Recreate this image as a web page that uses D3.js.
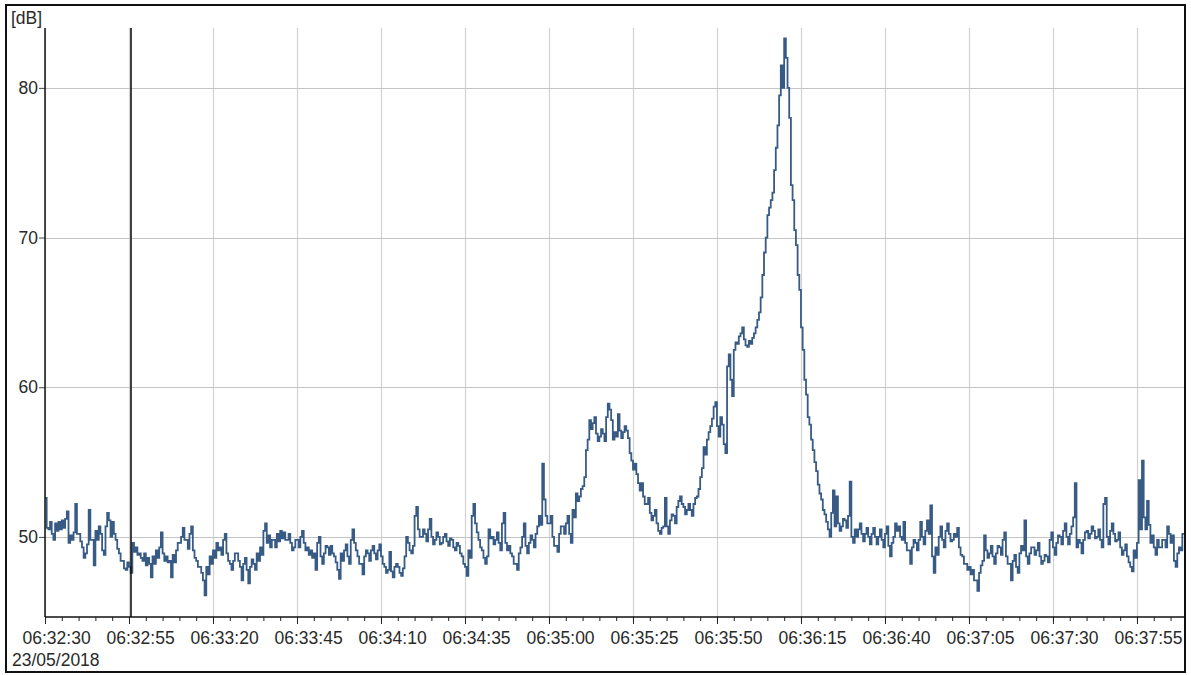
<!DOCTYPE html>
<html>
<head>
<meta charset="utf-8">
<script src="https://cdn.jsdelivr.net/npm/d3@7"></script>
<style>
  html, body { margin: 0; padding: 0; background: #ffffff; }
  svg { display: block; font-family: "Liberation Sans", Arial, sans-serif; }
</style>
</head>
<body>
<svg id="chart" width="1191" height="675"></svg>
<script>
// Recording window and labels
const recordDate = "2018-05-23";
const startClock = "06:32:30";
const endClock = "06:38:09";
const cursorClock = "06:32:55";
const dateLabel = "23/05/2018";
const unitLabel = "[dB]";
const tickLabels = ["06:32:30", "06:32:55", "06:33:20", "06:33:45", "06:34:10", "06:34:35",
  "06:35:00", "06:35:25", "06:35:50", "06:36:15", "06:36:40", "06:37:05", "06:37:30", "06:37:55"];
const yTicks = [50, 60, 70, 80];
const yDomain = [44.65, 84.0];

// Sound level in dB, one sample every half second from the start clock
const samplePeriod = 0.5;
const levels = [
  52.6,50.6, 50.5,51.0, 50.2,49.8, 50.9,50.4, 51.0,50.5, 51.1,50.6, 51.2,51.7, 49.6,50.1, 49.8,50.3, 52.2,50.2,
  50.2,49.7, 49.3,48.6, 48.9,49.5, 51.8,49.8, 49.8,48.1, 50.4,49.8, 50.7,50.2, 49.1,48.8, 50.7,51.6, 51.1,50.0,
  51.0,50.2, 49.8,49.2, 48.9,48.4, 48.4,47.9, 47.8,48.3, 48.0,47.6, 49.6,49.0, 49.3,48.8, 48.9,48.6, 48.4,48.9,
  48.1,48.6, 48.2,47.3, 48.7,48.2, 49.1,48.6, 49.3,50.3, 48.9,48.4, 48.7,48.3, 48.4,47.3, 48.8,48.3, 49.1,49.6,
  49.6,50.0, 50.6,49.8, 49.8,49.2, 50.2,50.7, 49.1,48.6, 48.4,48.0, 48.0,47.6, 47.1,46.1, 48.0,47.5, 48.7,48.2,
  49.1,48.6, 49.6,49.1, 49.3,48.8, 49.8,50.2, 48.9,48.4, 48.2,47.8, 48.4,48.9, 48.9,48.4, 48.0,47.1, 48.2,48.6,
  47.8,46.9, 48.0,48.5, 48.2,47.8, 48.9,48.4, 49.3,48.8, 50.4,50.9, 49.6,50.1, 49.3,49.8, 49.8,49.3, 50.2,49.7,
  50.4,49.9, 50.3,49.8, 49.8,50.2, 49.6,49.1, 49.3,49.8, 49.8,49.3, 50.0,50.4, 49.6,49.1, 49.3,48.8, 49.1,48.6,
  48.9,47.8, 49.6,50.0, 48.7,48.2, 48.9,49.4, 49.3,48.8, 49.4,48.9, 48.7,48.3, 47.8,47.2, 48.9,48.4, 49.1,49.5,
  48.7,48.2, 49.8,50.5, 49.6,49.1, 48.7,48.2, 48.2,47.5, 48.7,49.1, 48.9,48.4, 49.1,49.4, 48.9,48.5, 49.1,49.5,
  48.7,48.2, 48.0,47.6, 47.8,49.0, 47.7,47.3, 48.0,48.2, 48.0,47.6, 47.4,47.9, 48.7,50.0, 49.6,49.1, 48.9,49.4,
  51.4,52.0, 50.5,50.0, 50.0,50.5, 50.2,49.7, 50.5,51.2, 50.0,49.5, 49.8,50.3, 50.0,49.5, 49.6,50.0, 50.2,49.7,
  49.4,49.9, 49.8,49.3, 49.1,49.6, 49.4,48.9, 48.7,48.2, 48.0,47.4, 49.1,48.6, 51.4,52.2, 50.9,50.3, 49.8,49.3,
  49.1,48.6, 48.2,48.7, 50.5,49.9, 50.0,49.5, 49.8,50.3, 49.6,49.1, 50.9,51.6, 49.6,49.1, 49.4,48.9, 48.7,48.2,
  48.2,47.8, 48.9,49.3, 50.0,50.9, 49.4,48.9, 49.6,50.1, 49.8,49.3, 50.2,50.7, 51.4,50.8, 54.9,52.5, 51.4,50.9,
  50.9,51.4, 50.0,49.4, 49.4,49.0, 50.2,50.7, 50.7,50.2, 50.9,51.4, 50.2,49.6, 51.8,51.3, 52.9,52.4, 52.7,53.2,
  53.4,54.0, 55.8,56.5, 57.8,57.2, 57.6,58.0, 56.9,56.4, 56.7,57.2, 56.9,56.4, 58.0,58.9, 58.5,57.8, 56.5,57.0,
  56.7,58.2, 57.1,56.6, 57.0,57.4, 57.1,56.6, 55.6,55.1, 54.5,54.9, 54.2,53.6, 53.1,53.6, 52.7,52.2, 52.2,52.6,
  51.6,51.1, 51.4,51.8, 50.9,50.4, 50.2,50.6, 50.7,52.6, 50.7,50.2, 51.1,51.5, 51.4,50.9, 52.0,52.4, 52.7,52.2,
  52.0,51.5, 51.8,52.2, 51.8,51.4, 52.2,52.6, 52.7,53.2, 54.0,54.6, 56.0,55.5, 56.5,57.0, 57.4,57.9, 58.7,59.0,
  57.4,56.7, 58.0,57.5, 56.2,55.6, 61.4,62.2, 60.5,59.4, 62.5,63.0, 62.9,63.4, 63.6,64.0, 63.2,62.8, 62.7,63.1,
  62.9,63.3, 63.6,64.0, 64.5,65.0, 66.0,67.5, 69.0,70.0, 71.5,72.0, 72.5,73.0, 74.5,76.0, 77.5,79.5, 81.5,80.0,
  83.3,82.0, 80.0,78.0, 73.5,72.5, 70.5,69.5, 67.5,66.5, 64.0,62.5, 60.5,59.5, 58.0,57.5, 56.5,55.8, 55.0,54.4,
  53.5,52.9, 52.5,51.8, 51.5,51.0, 50.5,50.0, 51.6,53.1, 50.7,52.7, 50.9,50.4, 50.7,51.2, 51.1,50.6, 51.4,53.7,
  50.0,49.6, 50.5,50.0, 50.5,50.9, 50.2,49.7, 50.2,50.6, 50.0,49.5, 50.2,50.6, 50.0,49.5, 50.0,50.5, 49.8,49.3,
  50.2,50.7, 49.4,48.7, 49.6,50.0, 50.9,50.4, 50.7,50.0, 49.8,51.0, 49.6,49.1, 49.1,48.2, 49.3,49.8, 49.6,49.1,
  49.8,51.0, 50.0,49.5, 50.4,51.1, 50.2,52.1, 48.7,47.6, 49.3,48.8, 50.0,50.7, 49.8,49.3, 50.4,50.9, 50.2,49.7,
  49.8,50.2, 50.0,50.6, 49.3,48.8, 48.7,48.2, 48.2,47.8, 48.0,47.5, 47.8,47.1, 47.1,46.4, 47.6,48.1, 48.4,50.1,
  49.1,48.6, 48.9,49.4, 48.7,48.2, 48.9,49.4, 49.3,48.8, 49.8,50.3, 48.7,48.2, 48.2,47.1, 48.4,48.8, 48.0,47.6,
  48.9,49.4, 49.1,51.1, 48.7,48.2, 48.9,49.3, 49.3,48.8, 49.1,49.6, 48.7,48.2, 48.4,48.8, 48.7,48.3, 49.8,50.3,
  49.3,48.8, 49.6,50.1, 50.0,49.5, 50.4,50.9, 50.0,49.5, 50.2,50.7, 51.3,53.6, 49.3,49.8, 49.6,48.9, 49.8,50.3,
  50.4,49.9, 50.2,50.7, 50.4,49.9, 50.0,50.5, 49.8,49.3, 52.2,52.6, 50.0,49.5, 50.4,50.9, 50.2,49.7, 49.8,50.3,
  49.3,48.8, 49.1,49.5, 48.7,48.3, 48.0,47.7, 49.1,48.6, 49.6,53.8, 50.5,55.1, 51.3,50.5, 52.4,50.8, 49.6,50.1,
  49.3,48.8, 49.8,49.3, 49.3,49.8, 49.8,49.3, 50.7,50.2, 49.6,50.1, 48.4,48.0, 48.9,49.3, 49.1,50.2
];

const svg = d3.select("#chart");
const W = 1191, H = 675;
const plot = { left: 45, top: 28, right: 1184, bottom: 617 };

const parseClock = c => new Date(recordDate + "T" + c);
const t0 = parseClock(startClock);
const t1 = parseClock(endClock);

const x = d3.scaleTime().domain([t0, t1]).range([plot.left, plot.right]);
const y = d3.scaleLinear().domain(yDomain).range([plot.bottom, plot.top]);

// background
svg.append("rect").attr("x", 0).attr("y", 0).attr("width", W).attr("height", H).attr("fill", "#ffffff");

// grid
const majorTicks = tickLabels.map(parseClock);
svg.append("g").selectAll("line").data(majorTicks).join("line")
  .attr("x1", d => Math.round(x(d)) + 0.5).attr("x2", d => Math.round(x(d)) + 0.5)
  .attr("y1", plot.top).attr("y2", plot.bottom)
  .attr("stroke", "#d2d2d2").attr("stroke-width", 1.2);
svg.append("g").selectAll("line").data(yTicks).join("line")
  .attr("x1", plot.left).attr("x2", plot.right)
  .attr("y1", d => Math.round(y(d)) + 0.5).attr("y2", d => Math.round(y(d)) + 0.5)
  .attr("stroke", "#c4c4c4").attr("stroke-width", 1.2);

// series
const series = levels.map((v, i) => ({ t: new Date(t0.getTime() + i * samplePeriod * 1000), v }));
series.push({ t: new Date(t0.getTime() + levels.length * samplePeriod * 1000), v: levels[levels.length - 1] });

svg.append("clipPath").attr("id", "plotClip").append("rect")
  .attr("x", plot.left).attr("y", plot.top)
  .attr("width", plot.right - plot.left).attr("height", plot.bottom - plot.top);

const line = d3.line().x(d => x(d.t)).y(d => y(d.v)).curve(d3.curveStepAfter);
svg.append("path").datum(series)
  .attr("clip-path", "url(#plotClip)")
  .attr("fill", "none")
  .attr("stroke", "#375b85")
  .attr("stroke-width", 1.8)
  .attr("stroke-linejoin", "miter")
  .attr("d", line);

// cursor
const cursorT = parseClock(cursorClock);
svg.append("line")
  .attr("x1", x(cursorT) + 2).attr("x2", x(cursorT) + 2)
  .attr("y1", plot.top).attr("y2", plot.bottom)
  .attr("stroke", "#111111").attr("stroke-width", 1.6);

// y axis
const yAxis = d3.axisLeft(y).tickValues(yTicks).tickSize(6).tickPadding(1).tickFormat(d3.format("d"));
const gy = svg.append("g").attr("transform", `translate(${plot.left},0)`).call(yAxis);
gy.select(".domain").remove();
gy.selectAll(".tick line").attr("stroke", "#444");
gy.selectAll(".tick text").attr("font-size", 17.5).attr("fill", "#2a2a2a")
  .attr("font-family", "Liberation Sans, Arial, sans-serif");
svg.append("line").attr("x1", plot.left).attr("x2", plot.left)
  .attr("y1", plot.top).attr("y2", plot.bottom).attr("stroke", "#111").attr("stroke-width", 1.5);

// x axis: minor ticks every 5 s, labelled ticks every 25 s
const minorTicks = d3.timeSecond.every(5).range(t0, t1);
const gxMinor = svg.append("g").attr("transform", `translate(0,${plot.bottom})`)
  .call(d3.axisBottom(x).tickValues(minorTicks).tickSize(4).tickFormat(""));
gxMinor.select(".domain").remove();
gxMinor.selectAll(".tick line").attr("stroke", "#222");

const gx = svg.append("g").attr("transform", `translate(0,${plot.bottom})`)
  .call(d3.axisBottom(x).tickValues(majorTicks).tickSize(7).tickPadding(8)
    .tickFormat((d, i) => tickLabels[i]));
gx.select(".domain").remove();
gx.selectAll(".tick line").attr("stroke", "#222");
gx.selectAll(".tick text")
  .attr("text-anchor", "start").attr("x", -23)
  .attr("font-size", 17.5).attr("fill", "#2a2a2a")
  .attr("font-family", "Liberation Sans, Arial, sans-serif");
svg.append("line").attr("x1", plot.left).attr("x2", plot.right)
  .attr("y1", plot.bottom).attr("y2", plot.bottom).attr("stroke", "#111").attr("stroke-width", 1.5);

// labels
svg.append("text").attr("x", 11).attr("y", 24).attr("font-size", 17.5).attr("fill", "#2a2a2a").text(unitLabel);
svg.append("text").attr("x", 12).attr("y", 666).attr("font-size", 17.5).attr("fill", "#2a2a2a").text(dateLabel);

// frame
svg.append("rect").attr("x", 6).attr("y", 5).attr("width", 1179).attr("height", 667)
  .attr("fill", "none").attr("stroke", "#111").attr("stroke-width", 2);
</script>
</body>
</html>
